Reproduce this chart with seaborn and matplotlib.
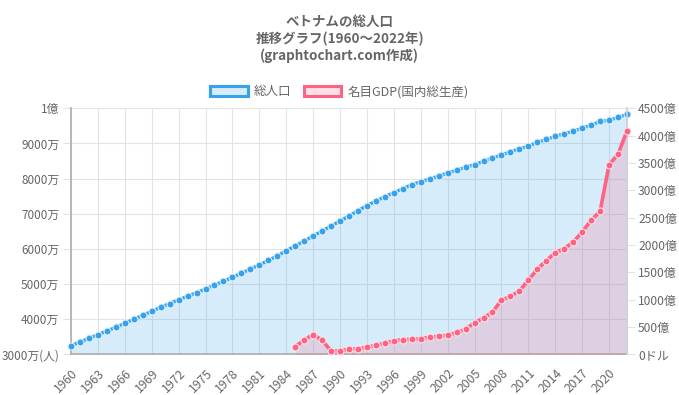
import matplotlib
matplotlib.use('Agg')
import matplotlib.pyplot as plt
import seaborn as sns
from matplotlib.patches import Patch

# ---- data ----
years = list(range(1960, 2023))
population_man = [  # 万人
    3246, 3350, 3455, 3558, 3663, 3768, 3882, 3996, 4110, 4224,
    4337, 4445, 4550, 4651, 4753, 4858, 4972, 5077, 5191, 5305,
    5427, 5541, 5675, 5797, 5948, 6082, 6224, 6366, 6509, 6651,
    6793, 6936, 7087, 7230, 7362, 7485, 7599, 7713, 7830,
    7912, 7992, 8071, 8161, 8239, 8320, 8400, 8489, 8587, 8668,
    8765, 8845, 8924, 9033, 9113, 9202, 9281, 9341, 9441, 9519,
    9628, 9661, 9741, 9830,
]
gdp_years = list(range(1985, 2023))
gdp_oku = [  # 億ドル
    140, 263, 362, 256, 63, 65, 96, 99, 130, 163,
    207, 247, 268, 272, 287, 312, 327, 351, 400, 457,
    579, 664, 774, 991, 1060, 1159, 1355, 1558, 1712, 1862,
    1932, 2053, 2238, 2452, 2615, 3466, 3662, 4088,
]
left_ticks = [3000, 4000, 5000, 6000, 7000, 8000, 9000, 10000]
left_labels = ['3000万(人)', '4000万', '5000万', '6000万', '7000万', '8000万', '9000万', '1億']
right_ticks = [0, 500, 1000, 1500, 2000, 2500, 3000, 3500, 4000, 4500]
right_labels = ['0ドル', '500億', '1000億', '1500億', '2000億', '2500億', '3000億', '3500億', '4000億', '4500億']
xtick_years = list(range(1960, 2021, 3))
title_lines = ['ベトナムの総人口', '推移グラフ(1960～2022年)', '(graphtochart.com作成)']
series_names = ['総人口', '名目GDP(国内総生産)']

# ---- style ----
sns.set_theme(style='white')
plt.rcParams['font.family'] = ['Noto Sans CJK JP', 'DejaVu Sans']

BLUE = '#36A2EB'
PINK = '#FF6384'
TXT = '#666666'
GRID = '#e3e3e3'

fig = plt.figure(figsize=(6.79, 3.95), dpi=100)
ax = fig.add_axes([71/679, 1-354.3/395, (627-71)/679, (354.3-108.3)/395])
ax2 = ax.twinx()

# population
sns.lineplot(x=years, y=population_man, ax=ax, color=BLUE, lw=2.4, marker='o',
             markersize=5, markeredgecolor='#dff0fc', markeredgewidth=0.8,
             clip_on=False, zorder=3)
ax.fill_between(years, population_man, 3000, color=BLUE, alpha=0.2, lw=0, zorder=1)

# GDP
sns.lineplot(x=gdp_years, y=gdp_oku, ax=ax2, color=PINK, lw=2.6, marker='o',
             markersize=5, markeredgecolor='#ffe3e9', markeredgewidth=0.8,
             clip_on=False, zorder=3)
ax2.fill_between(gdp_years, gdp_oku, 0, color=PINK, alpha=0.2, lw=0, zorder=1)

# axes
ax.set_xlim(1960, 2022)
ax.set_ylim(3000, 10000)
ax2.set_ylim(0, 4500)
ax.set_xticks(xtick_years)
ax.set_xticklabels([str(y) for y in xtick_years], rotation=45, ha='right',
                   rotation_mode='anchor', fontsize=8.8, color=TXT)
ax.set_yticks(left_ticks)
ax.set_yticklabels(left_labels, fontsize=8.5, color=TXT)
ax2.set_yticks(right_ticks)
ax2.set_yticklabels(right_labels, fontsize=8.7, color=TXT)

ax.grid(True, color=GRID, lw=0.8)
ax.set_axisbelow(True)
ax2.grid(False)
ax.tick_params(axis='y', length=6, width=0.8, color=GRID, pad=2.5)
ax.tick_params(axis='x', length=6, width=0.8, color=GRID, pad=3)
ax2.tick_params(axis='y', length=6, width=0.8, color=GRID, pad=2)

for a in (ax, ax2):
    for s in a.spines.values():
        s.set_visible(False)
ax.spines['left'].set_visible(True)
ax.spines['left'].set_color('#b0b0b0')
ax.spines['bottom'].set_visible(True)
ax.spines['bottom'].set_color('#b0b0b0')
ax2.spines['right'].set_visible(True)
ax2.spines['right'].set_color('#d0d0d0')
ax.set_xlabel('')
ax.set_ylabel('')
ax2.set_ylabel('')

# title
for i, line in enumerate(title_lines):
    fig.text(0.5, 1 - (22 + 17*i)/395, line, ha='center', va='center',
             fontsize=9.7, fontweight='bold', color=TXT)

# legend
handles = [
    Patch(facecolor='#d7ecfb', edgecolor=BLUE, lw=2.2, label=series_names[0]),
    Patch(facecolor='#ffe0e6', edgecolor=PINK, lw=2.2, label=series_names[1]),
]
fig.legend(handles=handles, loc='center', bbox_to_anchor=(0.5, 1 - 92/395),
           ncol=2, frameon=False, fontsize=9, labelcolor=TXT,
           handlelength=3.0, handleheight=0.9, handletextpad=0.5, columnspacing=1.0)

fig.savefig('out.png', dpi=100)
